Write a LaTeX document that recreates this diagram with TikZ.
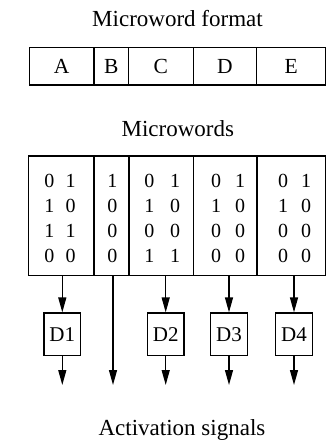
\documentclass[tikz,border=0pt]{standalone}
\usepackage{fontspec}
\setmainfont{Liberation Serif}
\usetikzlibrary{arrows.meta}
\begin{document}
\begin{tikzpicture}[x=1pt,y=-1pt,
  title/.style={font=\fontsize{23}{27}\selectfont, anchor=base, inner sep=0pt},
  cell/.style={draw, line width=1.2pt, minimum height=37.7pt, inner sep=0pt, font=\fontsize{21.5}{25}\selectfont},
  col/.style={draw, line width=1.2pt, minimum height=119.5pt, inner sep=0pt},
  bit/.style={font=\fontsize{20}{23}\selectfont, inner sep=0pt},
  dbox/.style={draw, line width=1.2pt, minimum width=36.7pt, minimum height=42.7pt, inner sep=0pt, font=\fontsize{21}{25}\selectfont},
  sig/.style={line width=1.3pt, -{Triangle[length=15pt,width=8pt]}}
]
\useasboundingbox (0,0) rectangle (329,441);

% titles
\node[title] (t1) at (177.5,26.7) {Microword format};
\node[title] (t2) at (177.8,136) {Microwords};
\node[title] (t3) at (182,435) {Activation signals};

% microword format
\node[cell, minimum width=64.7pt] (fA) at (61.65,66.2) {A};
\node[cell, minimum width=34.5pt] (fB) at (111.25,66.2) {B};
\node[cell, minimum width=64.8pt] (fC) at (160.9,66.2) {C};
\node[cell, minimum width=63.4pt] (fD) at (225,66.2) {D};
\node[cell, minimum width=69pt] (fE) at (291.2,66.2) {E};

% microwords columns
\node[col, minimum width=65.5pt] (mA) at (61.25,215.75) {};
\node[col, minimum width=35pt] (mB) at (111.5,215.75) {};
\node[col, minimum width=64.3pt] (mC) at (161.15,215.75) {};
\node[col, minimum width=63.7pt] (mD) at (225.15,215.75) {};
\node[col, minimum width=68.7pt] (mE) at (291.35,215.75) {};

% bits
\foreach \r/\y/\a/\b/\bb/\c/\d/\dd/\e/\f/\g in
 {1/181/0/1/1/0/1/0/1/0/1,
  2/206/1/0/0/1/0/1/0/1/0,
  3/231/1/1/0/0/0/0/0/0/0,
  4/256/0/0/0/1/1/0/0/0/0}{
  \node[bit] (a\r l) at (49.3,\y) {\a};
  \node[bit] (a\r r) at (70.7,\y) {\b};
  \node[bit] (b\r) at (112.3,\y) {\bb};
  \node[bit] (c\r l) at (149.3,\y) {\c};
  \node[bit] (c\r r) at (175,\y) {\d};
  \node[bit] (d\r l) at (216,\y) {\dd};
  \node[bit] (d\r r) at (240,\y) {\e};
  \node[bit] (e\r l) at (283,\y) {\f};
  \node[bit] (e\r r) at (306,\y) {\g};
}

% decoders
\node[dbox] (D1) at (62.3,334.35) {D1};
\node[dbox] (D2) at (165.7,334.35) {D2};
\node[dbox] (D3) at (229,334.35) {D3};
\node[dbox] (D4) at (294,334.35) {D4};

% arrows into decoders
\draw[sig] (D1.north |- mA.south) -- (D1.north);
\draw[sig] (D2.north |- mC.south) -- (D2.north);
\draw[sig] (D3.north |- mD.south) -- (D3.north);
\draw[sig] (D4.north |- mE.south) -- (D4.north);

% outputs
\coordinate (o1) at (62.3,385);
\coordinate (o2) at (165.7,385);
\coordinate (o3) at (229,385);
\coordinate (o4) at (294,385);
\coordinate (bt) at (113,275.5);
\coordinate (bo) at (113,385);
\draw[sig] (D1.south) -- (o1);
\draw[sig] (D2.south) -- (o2);
\draw[sig] (D3.south) -- (o3);
\draw[sig] (D4.south) -- (o4);
\draw[sig] (bt) -- (bo);
\end{tikzpicture}
\end{document}
